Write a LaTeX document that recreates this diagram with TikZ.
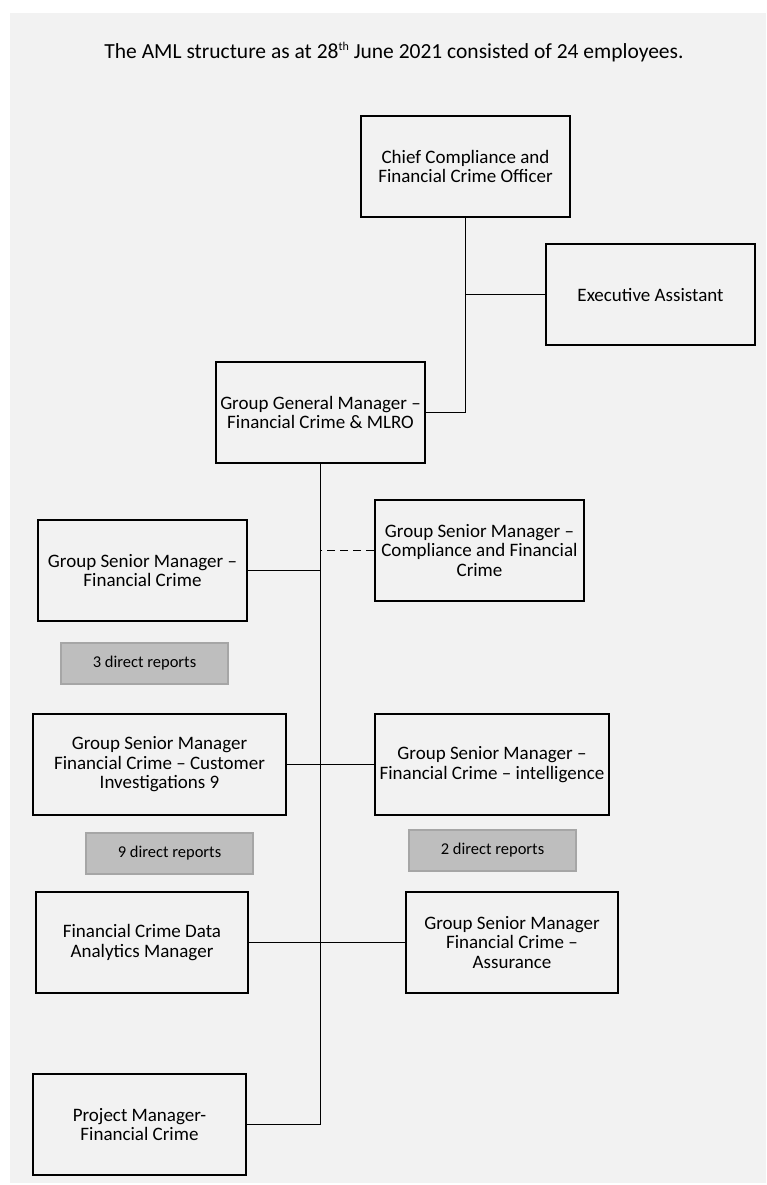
\documentclass[tikz,border=0pt]{standalone}
\usepackage{fontspec}
\setmainfont{Carlito}
\definecolor{pagebg}{HTML}{F2F2F2}
\definecolor{repfill}{HTML}{BEBEBE}
\definecolor{repline}{HTML}{A6A6A6}
\newcommand{\ordsup}[1]{\raisebox{0.75ex}{\fontsize{12}{12}\selectfont #1}}
\begin{document}
\begin{tikzpicture}[x=1pt,y=-1pt,
  box/.style={draw=black, line width=1.8pt, align=center, inner sep=0pt,
    minimum height=101pt, font=\fontsize{19}{19.5}\selectfont},
  rep/.style={draw=repline, fill=repfill, line width=1.2pt, inner sep=0pt,
    minimum width=167pt, minimum height=41pt, font=\fontsize{16.5}{19}\selectfont},
  link/.style={line width=1.8pt}]
\useasboundingbox (0,0) rectangle (766,1185);
\fill[pagebg] (10,13) rectangle (766,1183);

\node[font=\fontsize{21.5}{25}\selectfont] (title) at (394,52)
  {The AML structure as at 28\ordsup{th} June 2021 consisted of 24 employees.};

\node[box, minimum width=209pt] (chief) at (465.5,166.5) {Chief Compliance and\\Financial Crime Officer};
\node[box, minimum width=209pt] (ea) at (650.5,294.5) {Executive Assistant};
\node[box, minimum width=209pt] (ggm) at (320.5,412.5) {Group General Manager –\\Financial Crime \& MLRO};

\node[box, minimum width=209pt] (gsmfc) at (142.5,570.5) {Group Senior Manager –\\Financial Crime};
\node[box, minimum width=209pt] (gsmcfc) at (479.5,550.5) {Group Senior Manager –\\Compliance and Financial\\Crime};
\node[rep] (rep3) at (144.5,663.5) {3 direct reports};

\node[box, minimum width=253pt] (gsmci) at (159.5,764.5) {Group Senior Manager\\Financial Crime – Customer\\Investigations 9};
\node[box, minimum width=234pt] (intel) at (492,764.5) {Group Senior Manager –\\Financial Crime – intelligence};
\node[rep] (rep9) at (169.5,853.5) {9 direct reports};
\node[rep] (rep2) at (492.5,850.5) {2 direct reports};

\node[box, minimum width=212pt] (fcda) at (142,942.5) {Financial Crime Data\\Analytics Manager};
\node[box, minimum width=212pt] (assur) at (512,942.5) {Group Senior Manager\\Financial Crime –\\Assurance};

\node[box, minimum width=213pt] (pm) at (139.5,1124.5) {Project Manager-\\Financial Crime};

% reporting lines
\draw[link] (chief.south) |- (ggm.east);
\draw[link] (chief.south |- ea.west) -- (ea.west);
\draw[link] (ggm.south) |- (pm.east);
\draw[link] (gsmfc.east) -- (gsmfc.east -| ggm.south);
\draw[link, dash pattern=on 8pt off 5pt] (gsmcfc.west) -- (gsmcfc.west -| ggm.south);
\draw[link] (gsmci.east) -- (intel.west);
\draw[link] (fcda.east) -- (assur.west);
\end{tikzpicture}
\end{document}
